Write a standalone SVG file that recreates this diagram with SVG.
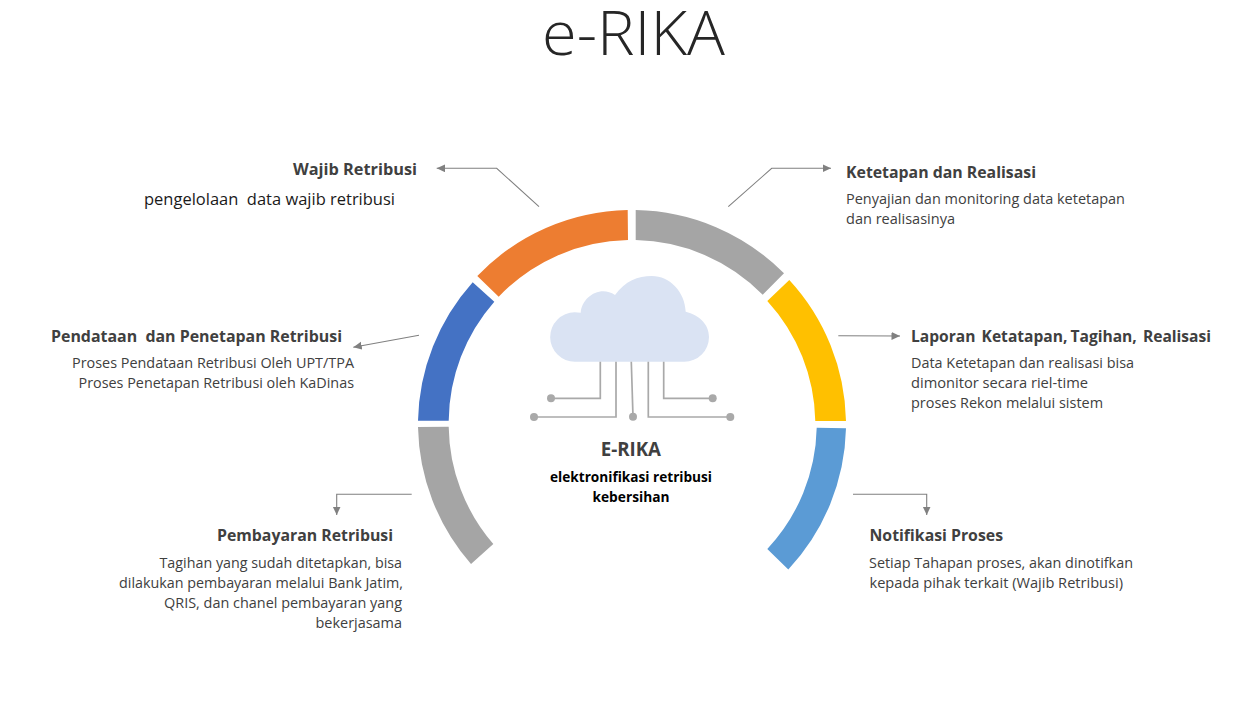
<svg xmlns="http://www.w3.org/2000/svg" width="1258" height="720" viewBox="0 0 1258 720">
<style>
text{font-family:"Open Sans","Noto Sans","Liberation Sans",sans-serif;white-space:pre}
.title{font-size:60px;font-weight:300;fill:#262626}
.head{font-size:16px;font-weight:700;fill:#404040}
.body{font-size:15px;fill:#404040}
.lead{font-size:17px;fill:#1a1a1a}
.sub{font-size:14.5px;font-weight:700;fill:#000}
.center{font-size:20px;font-weight:700;fill:#404040}
.conn{fill:none;stroke:#808080;stroke-width:1.1}
.wire{fill:none;stroke:#a9a9a9;stroke-width:1.7}
.dot{fill:#a9a9a9}
</style>
<defs>
<marker id="arrow" markerUnits="userSpaceOnUse" markerWidth="10" markerHeight="9" refX="8.5" refY="4" orient="auto">
<path d="M0 0L8.5 4L0 8Z" fill="#808080"/>
</marker>
</defs>
<rect width="1258" height="720" fill="#fff"/>
<text id="title" class="title" x="542" y="55" textLength="183" lengthAdjust="spacingAndGlyphs">e-RIKA</text>
<g id="connectors">
<path class="conn" marker-end="url(#arrow)" d="M539 206.7L496.7 168.3H436.7"/>
<path class="conn" marker-end="url(#arrow)" d="M728.3 206.7L771.7 168.3H831"/>
<path class="conn" marker-end="url(#arrow)" d="M419 335.3L353.3 347.3"/>
<path class="conn" marker-end="url(#arrow)" d="M838.3 335.7L900 336"/>
<path class="conn" marker-end="url(#arrow)" d="M411.7 494.3H336.7V515"/>
<path class="conn" marker-end="url(#arrow)" d="M853 494.3H926.7V515"/>
</g>
<g id="node-wajib-retribusi">
<path fill="#ed7d31" d="M477.3 276A214 214 0 0 1 627.7 210L628 240A183 183 0 0 0 498.7 296.7Z"/>
<text class="head" x="293" y="175" textLength="124" lengthAdjust="spacingAndGlyphs">Wajib Retribusi</text>
<text class="lead" x="144" y="204.5" textLength="251" lengthAdjust="spacingAndGlyphs">pengelolaan  data wajib retribusi</text>
</g>
<g id="node-ketetapan-realisasi">
<path fill="#a5a5a5" d="M635.7 210A214 214 0 0 1 784 273.3L762.7 294.7A183 183 0 0 0 635.7 240Z"/>
<text class="head" x="846" y="177.7" textLength="190" lengthAdjust="spacingAndGlyphs">Ketetapan dan Realisasi</text>
<text class="body" x="846" y="204.3" textLength="279" lengthAdjust="spacingAndGlyphs">Penyajian dan monitoring data ketetapan</text>
<text class="body" x="846" y="224.3" textLength="109" lengthAdjust="spacingAndGlyphs">dan realisasinya</text>
</g>
<g id="node-laporan">
<path fill="#ffc000" d="M789.3 280A214 214 0 0 1 846 421H815.3A183 183 0 0 0 767.3 301Z"/>
<text class="head" x="911" y="341.7" textLength="300" lengthAdjust="spacingAndGlyphs" word-spacing="-1">Laporan  Ketatapan, Tagihan,  Realisasi</text>
<text class="body" x="911" y="367.7" textLength="223" lengthAdjust="spacingAndGlyphs">Data Ketetapan dan realisasi bisa</text>
<text class="body" x="911" y="387.7" textLength="177" lengthAdjust="spacingAndGlyphs">dimonitor secara riel-time</text>
<text class="body" x="911" y="407.7" textLength="192" lengthAdjust="spacingAndGlyphs">proses Rekon melalui sistem</text>
</g>
<g id="node-notifikasi">
<path fill="#5b9bd5" d="M816.7 427.7L846 428.3A214 214 0 0 1 788.3 569.5L767.3 549A183 183 0 0 0 816.7 427.7Z"/>
<text class="head" x="869.5" y="541" textLength="133.5" lengthAdjust="spacingAndGlyphs">Notifikasi Proses</text>
<text class="body" x="869" y="568" textLength="264" lengthAdjust="spacingAndGlyphs">Setiap Tahapan proses, akan dinotifkan</text>
<text class="body" x="869.5" y="588" textLength="253.5" lengthAdjust="spacingAndGlyphs">kepada pihak terkait (Wajib Retribusi)</text>
</g>
<g id="node-pembayaran">
<path fill="#a5a5a5" d="M418 427L448.7 426.7A183 183 0 0 0 493.3 544L471 564A214 214 0 0 1 418 427Z"/>
<text class="head" x="217" y="541" textLength="176" lengthAdjust="spacingAndGlyphs">Pembayaran Retribusi</text>
<text class="body" x="159.5" y="568" textLength="242.5" lengthAdjust="spacingAndGlyphs">Tagihan yang sudah ditetapkan, bisa</text>
<text class="body" x="119" y="588" textLength="284" lengthAdjust="spacingAndGlyphs">dilakukan pembayaran melalui Bank Jatim,</text>
<text class="body" x="164" y="608" textLength="238" lengthAdjust="spacingAndGlyphs">QRIS, dan chanel pembayaran yang</text>
<text class="body" x="315.5" y="628" textLength="86.5" lengthAdjust="spacingAndGlyphs">bekerjasama</text>
</g>
<g id="node-pendataan">
<path fill="#4472c4" d="M472.7 282.3L494.3 301.7A183 183 0 0 0 448.7 420.7H418A214 214 0 0 1 472.7 282.3Z"/>
<text class="head" x="51" y="341.7" textLength="291" lengthAdjust="spacingAndGlyphs">Pendataan  dan Penetapan Retribusi</text>
<text class="body" x="72" y="367.7" textLength="282" lengthAdjust="spacingAndGlyphs">Proses Pendataan Retribusi Oleh UPT/TPA</text>
<text class="body" x="78.5" y="387.7" textLength="275.5" lengthAdjust="spacingAndGlyphs">Proses Penetapan Retribusi oleh KaDinas</text>
</g>
<g id="node-e-rika">
<path fill="#dae3f3" d="M575 361.7A24.7 24.7 0 0 1 574.7 312.3Q578 312.3 580.7 312.7C582 297 600 285 615 295C625 281 638 276 651.7 276C670 276 685 292 685.7 311.7C699 315 709 324 709 337A24.7 24.7 0 0 1 684.3 361.7Z"/>
<path class="wire" d="M600.3 361.7V398.3H551"/>
<path class="wire" d="M616 361.7V417H534"/>
<path class="wire" d="M631.3 361.7L633 416.7"/>
<path class="wire" d="M648.3 361.7V417H730.3"/>
<path class="wire" d="M663.7 361.7V398.3H712.7"/>
<circle class="dot" cx="551" cy="398.3" r="4"/>
<circle class="dot" cx="534" cy="417" r="4"/>
<circle class="dot" cx="633" cy="416.7" r="4"/>
<circle class="dot" cx="730.3" cy="417" r="4"/>
<circle class="dot" cx="712.7" cy="398.3" r="4"/>
<text class="center" x="600.7" y="455.7" textLength="60.3" lengthAdjust="spacingAndGlyphs">E-RIKA</text>
<text class="sub" x="550" y="481.7" textLength="162" lengthAdjust="spacingAndGlyphs">elektronifikasi retribusi</text>
<text class="sub" x="592.5" y="501.7" textLength="77" lengthAdjust="spacingAndGlyphs">kebersihan</text>
</g>
</svg>
